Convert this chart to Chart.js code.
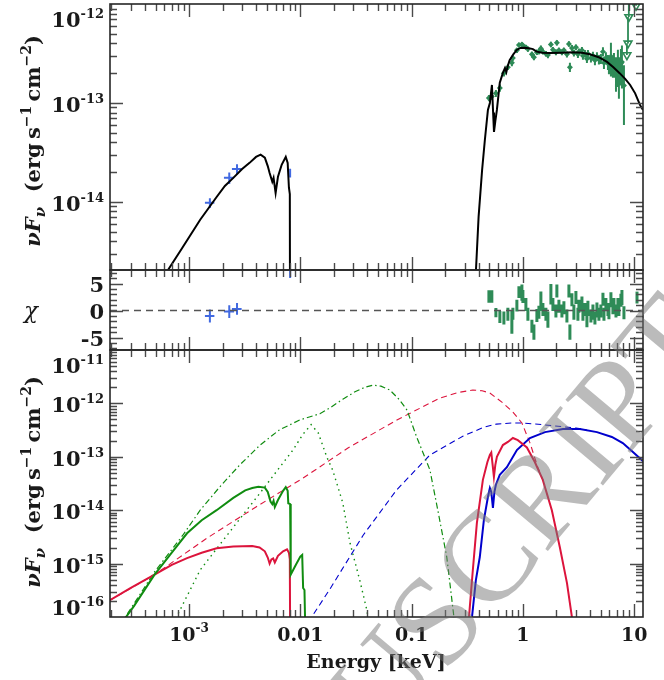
<!DOCTYPE html>
<html>
<head>
<meta charset="utf-8">
<script src="https://cdn.jsdelivr.net/npm/chart.js@4.4.1/dist/chart.umd.min.js"></script>
<style>
  html, body { margin: 0; padding: 0; background: #fff; }
  #wrap { position: relative; width: 664px; height: 680px; overflow: hidden; }
  #wrap canvas { position: absolute; left: 0; top: 0; }
</style>
</head>
<body>
<div id="wrap">
  <canvas id="cTop" width="664" height="680"></canvas>
  <canvas id="cMid" width="664" height="680"></canvas>
  <canvas id="cBot" width="664" height="680"></canvas>
</div>
<script>
"use strict";

// ---------------- data (energy in keV, flux in erg s^-1 cm^-2) ----------------

// top panel: total model (black), UV part and X-ray part
const modelUvE = [6.2e-4, 8.8e-4, 1.26e-3, 1.77e-3, 2.1e-3, 2.5e-3, 3.0e-3, 3.5e-3, 4.0e-3, 4.4e-3, 4.8e-3, 5.1e-3, 5.3e-3, 5.6e-3, 5.75e-3, 6.0e-3, 6.3e-3, 6.8e-3, 7.4e-3, 7.7e-3, 7.9e-3, 8.05e-3, 8.1e-3];
const modelUvF = [1.9e-15, 3.5e-15, 6.6e-15, 1.12e-14, 1.45e-14, 1.75e-14, 2.15e-14, 2.48e-14, 2.85e-14, 3.0e-14, 2.8e-14, 2.3e-14, 1.96e-14, 1.6e-14, 1.75e-14, 1.23e-14, 1.8e-14, 2.37e-14, 2.85e-14, 2.48e-14, 1.4e-14, 1.2e-14, 1e-16];
const modelXrE = [0.37, 0.40, 0.43, 0.455, 0.485, 0.505, 0.527, 0.54, 0.55, 0.565, 0.584, 0.62, 0.66, 0.69, 0.71, 0.73, 0.76, 0.82, 0.88, 0.95, 1.04, 1.13, 1.23, 1.33, 1.5, 1.75, 2.2, 2.8, 3.4, 4.0, 4.8, 5.7, 6.5, 7.4, 8.3, 9.2, 10.2, 11.3, 12.0];
const modelXrF = [1.2e-15, 7.1e-15, 2.1e-14, 4.2e-14, 8.5e-14, 1.0e-13, 1.52e-13, 8e-14, 5.1e-14, 6.5e-14, 8.5e-14, 1.6e-13, 2.0e-13, 2.25e-13, 2.05e-13, 2.35e-13, 2.7e-13, 3.1e-13, 3.43e-13, 3.6e-13, 3.62e-13, 3.58e-13, 3.5e-13, 3.3e-13, 3.22e-13, 3.2e-13, 3.22e-13, 3.25e-13, 3.22e-13, 3.1e-13, 2.9e-13, 2.6e-13, 2.3e-13, 2.0e-13, 1.75e-13, 1.52e-13, 1.25e-13, 9.5e-14, 8.5e-14];

// UV photometry (blue)
const uvE = [1.54e-3, 2.3e-3, 2.7e-3, 8.1e-3];
const uvEerr = [0.15e-3, 0.24e-3, 0.27e-3, 0];
const uvF = [9.8e-15, 1.75e-14, 2.15e-14, 1.96e-14];
const uvFerr = [1.1e-15, 2.3e-15, 2.5e-15, 2.0e-15];
const uvChi = [-1.0, -0.2, 0.3, 8.0];
const uvChiErr = [1.2, 1.2, 1.1, 2.0];

// X-ray spectrum (green)
const xrE = [0.495, 0.526, 0.572, 0.621, 0.675, 0.733, 0.796, 0.813, 0.883, 0.921,
  0.98, 1.0, 1.064, 1.109, 1.205, 1.256, 1.336, 1.393, 1.451, 1.513,
  1.61, 1.678, 1.785, 1.861, 1.98, 2.02, 2.107, 2.242, 2.336, 2.486,
  2.591, 2.645, 2.757, 2.873, 2.995, 3.122, 3.187, 3.392, 3.463, 3.609,
  3.761, 3.84, 4.086, 4.259, 4.438, 4.627, 4.82, 5.02, 5.24, 5.35,
  5.57, 5.81, 5.93, 6.18, 6.44, 6.58, 6.86, 7.14, 7.29, 7.6,
  7.76, 8.09];
const xrF = [1.12e-13, 1.16e-13, 1.25e-13, 1.42e-13, 2.0e-13, 2.3e-13, 2.55e-13, 2.85e-13, 3.4e-13, 3.85e-13,
  3.9e-13, 3.8e-13, 3.65e-13, 3.5e-13, 3.1e-13, 2.9e-13, 3.25e-13, 3.3e-13, 3.55e-13, 3.3e-13,
  3.15e-13, 3.05e-13, 3.9e-13, 3.45e-13, 3.25e-13, 4.05e-13, 3.4e-13, 3.25e-13, 3.4e-13, 3.1e-13,
  3.95e-13, 2.3e-13, 3.6e-13, 3.2e-13, 3.65e-13, 3.1e-13, 3.3e-13, 3.4e-13, 3.0e-13, 3.15e-13,
  2.8e-13, 3.15e-13, 2.85e-13, 3.0e-13, 2.7e-13, 2.95e-13, 2.75e-13, 2.8e-13, 3.3e-13, 2.55e-13,
  2.85e-13, 2.6e-13, 2.45e-13, 2.95e-13, 2.4e-13, 2.5e-13, 2.1e-13, 2.45e-13, 2.0e-13, 2.5e-13,
  2.6e-13, 1.5e-13];
const xrFerr = [0.08e-13, 0.09e-13, 0.1e-13, 0.12e-13, 0.15e-13, 0.15e-13, 0.2e-13, 0.18e-13, 0.2e-13, 0.2e-13,
  0.2e-13, 0.2e-13, 0.2e-13, 0.2e-13, 0.2e-13, 0.2e-13, 0.2e-13, 0.2e-13, 0.25e-13, 0.2e-13,
  0.2e-13, 0.22e-13, 0.25e-13, 0.22e-13, 0.22e-13, 0.25e-13, 0.22e-13, 0.22e-13, 0.22e-13, 0.22e-13,
  0.25e-13, 0.25e-13, 0.25e-13, 0.25e-13, 0.25e-13, 0.25e-13, 0.25e-13, 0.27e-13, 0.27e-13, 0.27e-13,
  0.27e-13, 0.28e-13, 0.28e-13, 0.3e-13, 0.3e-13, 0.3e-13, 0.3e-13, 0.32e-13, 0.35e-13, 0.35e-13,
  0.4e-13, 0.45e-13, 0.5e-13, 1.1e-13, 0.6e-13, 0.7e-13, 0.8e-13, 1.0e-13, 0.9e-13, 1.0e-13,
  1.2e-13, 0.9e-13];
const xrChi = [2.6, 2.6, -0.4, -1.2, -1.4, -0.7, -2.2, -0.6, 0.9, 3.4,
  3.3, 2.6, 1.1, -0.7, -2.9, -4.0, -0.9, -0.3, 1.7, 0.2,
  -0.7, -1.7, 3.0, 1.1, -0.1, 3.6, 0.8, -0.1, 0.5, -1.0,
  3.6, -4.0, 2.0, -0.3, 2.4, -0.7, 0.8, 1.2, -0.7, 0.2,
  -1.9, 0.4, -1.0, -0.3, -1.4, 0.1, -0.7, -0.1, 2.1, -0.7,
  1.1, 0.2, -0.4, 2.0, 0.7, 0.9, -0.1, 1.1, 0.2, 1.9,
  2.4, -0.4];
const xrChiErr = [1.15, 1.15, 0.85, 1.1, 1.2, 1.2, 2.1, 1.1, 1.1, 1.1,
  1.5, 1.2, 1.2, 1.2, 1.2, 1.4, 1.2, 1.2, 1.8, 1.2,
  1.2, 1.5, 1.9, 1.2, 1.2, 1.2, 1.2, 1.2, 1.2, 1.2,
  1.2, 1.4, 1.2, 1.4, 1.2, 1.2, 1.2, 1.4, 1.2, 1.2,
  1.2, 1.4, 1.2, 1.4, 1.2, 1.4, 1.2, 1.2, 1.2, 1.2,
  1.2, 1.2, 1.2, 1.4, 1.4, 1.4, 1.2, 1.2, 1.2, 1.2,
  1.4, 1.2];

// X-ray upper limits (open triangles)
const ulE = [8.6, 8.8, 8.95, 10.4];
const ulF = [3.05e-13, 4.0e-13, 7.4e-13, 9.6e-13];
const ulTop = [4.0e-13, 7.4e-13, 1.1e-12, 1.3e-12];
const ulChiE = [10.6];
const ulChi = [2.4];
const ulChiErr = [1.1];

// bottom panel: model components
const gSolidE = [2.4e-4, 3.2e-4, 4.9e-4, 7e-4, 9.6e-4, 1.3e-3, 1.77e-3, 2.5e-3, 3.2e-3, 3.7e-3, 4.2e-3, 4.8e-3, 5.1e-3, 5.4e-3, 5.6e-3, 5.75e-3, 5.9e-3, 6.3e-3, 7.0e-3, 7.4e-3, 7.7e-3, 7.8e-3, 8.1e-3, 8.2e-3, 9.0e-3, 0.0100, 0.0104, 0.0106, 0.0109, 0.0111];
const gSolidF = [7e-17, 1.6e-16, 6.2e-16, 1.6e-15, 3.7e-15, 6.5e-15, 1.0e-14, 1.7e-14, 2.35e-14, 2.6e-14, 2.75e-14, 2.65e-14, 2.2e-14, 1.45e-14, 1.3e-14, 1.5e-14, 1.15e-14, 1.55e-14, 2.3e-14, 2.7e-14, 2.3e-14, 1.35e-14, 1.3e-14, 6.2e-16, 9e-16, 1.35e-15, 1.45e-15, 3.5e-16, 3.2e-16, 5e-17];
const gDashDotE = [2.4e-4, 4.9e-4, 8.8e-4, 1.26e-3, 1.88e-3, 2.85e-3, 4.35e-3, 6.5e-3, 9.9e-3, 0.015, 0.0184, 0.0241, 0.031, 0.038, 0.0449, 0.053, 0.0638, 0.078, 0.091, 0.111, 0.146, 0.172, 0.207, 0.24];
const gDashDotF = [7e-17, 7e-16, 3.4e-15, 1.0e-14, 2.7e-14, 7.0e-14, 1.66e-13, 3.2e-13, 4.9e-13, 6.4e-13, 8.2e-13, 1.2e-12, 1.65e-12, 2.0e-12, 2.2e-12, 2.1e-12, 1.78e-12, 1.16e-12, 7.5e-13, 2.35e-13, 5.7e-14, 1e-14, 1.33e-15, 1e-16];
const gDotE = [6.5e-4, 8.3e-4, 1.26e-3, 2.5e-3, 4.35e-3, 7.0e-3, 8.6e-3, 0.0105, 0.0125, 0.0145, 0.0173, 0.0195, 0.0218, 0.0241, 0.028, 0.0342, 0.0396, 0.043];
const gDotF = [5e-17, 1.35e-16, 7.6e-16, 4.8e-15, 2.1e-14, 7.7e-14, 1.34e-13, 2.6e-13, 4.0e-13, 2.8e-13, 9.9e-14, 5.7e-14, 2.7e-14, 1.36e-14, 2.4e-15, 4.9e-16, 1.35e-16, 5e-17];

const rSolidLoE = [1.9e-4, 3e-4, 4.9e-4, 7e-4, 9.6e-4, 1.3e-3, 1.77e-3, 2.5e-3, 3.7e-3, 4.3e-3, 4.8e-3, 5.1e-3, 5.3e-3, 5.5e-3, 5.7e-3, 5.9e-3, 6.3e-3, 7.0e-3, 7.6e-3, 7.9e-3, 8.05e-3, 8.1e-3];
const rSolidLoF = [2.0e-16, 3.5e-16, 6.2e-16, 9.5e-16, 1.27e-15, 1.6e-15, 1.94e-15, 2.1e-15, 2.14e-15, 2.0e-15, 1.7e-15, 1.3e-15, 1.0e-15, 1.2e-15, 1.25e-15, 1.05e-15, 1.4e-15, 1.7e-15, 1.85e-15, 1.6e-15, 1.2e-15, 5e-17];
const rSolidHiE = [0.325, 0.355, 0.386, 0.437, 0.48, 0.505, 0.52, 0.535, 0.549, 0.565, 0.584, 0.661, 0.733, 0.813, 0.9, 1.086, 1.28, 1.51, 1.82, 2.15, 2.49, 2.8];
const rSolidHiF = [8e-17, 7.6e-16, 5.8e-15, 3.7e-14, 8e-14, 1.08e-13, 1.2e-13, 7e-14, 4.2e-14, 7e-14, 1.0e-13, 1.66e-13, 1.9e-13, 2.25e-13, 2.05e-13, 1.5e-13, 8e-14, 3.7e-14, 1e-14, 2e-15, 4.3e-16, 8e-17];
const rDashE = [1.9e-4, 4.9e-4, 1.45e-3, 4.0e-3, 0.0106, 0.0268, 0.0738, 0.18, 0.26, 0.355, 0.43, 0.505, 0.661, 0.813, 0.98, 1.16, 1.36, 1.58];
const rDashF = [2.0e-16, 6.2e-16, 3.0e-15, 1.15e-14, 4.0e-14, 1.46e-13, 4.9e-13, 1.26e-12, 1.6e-12, 1.78e-12, 1.72e-12, 1.57e-12, 1.02e-12, 6.9e-13, 4.3e-13, 1.8e-13, 6.4e-14, 3.0e-14];

const bSolidE = [0.345, 0.378, 0.41, 0.446, 0.485, 0.505, 0.52, 0.538, 0.555, 0.572, 0.62, 0.718, 0.883, 1.156, 1.58, 2.29, 3.25, 4.63, 6.3, 7.9, 9.74, 11.7, 12.0];
const bSolidF = [8e-17, 4.9e-16, 1.33e-15, 6.5e-15, 1.77e-14, 2.6e-14, 2.2e-14, 1.1e-14, 2.2e-14, 3.0e-14, 4.6e-14, 6.4e-14, 1.34e-13, 2.25e-13, 2.9e-13, 3.3e-13, 3.3e-13, 2.9e-13, 2.35e-13, 1.81e-13, 1.23e-13, 8.7e-14, 8.2e-14];
const bDashE = [0.0118, 0.0184, 0.0367, 0.0734, 0.146, 0.291, 0.45, 0.58, 0.8, 1.0, 1.5, 2.3, 3.0, 3.74];
const bDashF = [8e-17, 3.3e-16, 3.4e-15, 2.4e-14, 1.08e-13, 2.45e-13, 3.6e-13, 4.1e-13, 4.3e-13, 4.3e-13, 4.0e-13, 3.65e-13, 3.45e-13, 3.2e-13];

// axis ranges and tick labels
const E_MIN = 1.95e-4, E_MAX = 12;
const xTickVals = [1e-3, 0.01, 0.1, 1, 10];
const xTickText = [['10', '-3'], ['0.01'], ['0.1'], ['1'], ['10']];
const topYTicks = [1e-14, 1e-13, 1e-12];
const topYExp = ['-14', '-13', '-12'];
const midYTicks = [5, 0, -5];
const botYTicks = [1e-16, 1e-15, 1e-14, 1e-13, 1e-12, 1e-11];
const botYExp = ['-16', '-15', '-14', '-13', '-12', '-11'];

// ---------------- colours / helpers ----------------
const BLACK = '#000000', UVBLUE = '#4169e1', XGREEN = '#2e8b57';
const GREEN = '#108c10', RED = '#dc143c', BLUE = '#0000cd';
const SERIF = '"DejaVu Serif"';

const pts = (xs, ys) => xs.map((x, i) => ({ x, y: ys[i] }));

function vErr(xs, ys, lo, hi) {
  const out = [];
  xs.forEach((x, i) => { out.push({ x, y: lo[i] }, { x, y: hi[i] }, { x, y: null }); });
  return out;
}
function vErrSym(xs, ys, e) {
  return vErr(xs, ys, ys.map((y, i) => y - e[i]), ys.map((y, i) => y + e[i]));
}
function hErr(xs, ys, e) {
  const out = [];
  xs.forEach((x, i) => { if (e[i] > 0) out.push({ x: x - e[i], y: ys[i] }, { x: x + e[i], y: ys[i] }, { x, y: null }); });
  return out;
}

const line = (data, color, width, dash) => ({
  data, showLine: true, borderColor: color, borderWidth: width, borderDash: dash || [],
  pointRadius: 0, fill: false, borderCapStyle: 'butt'
});
const marks = (data, color, style, r, extra) => Object.assign({
  data, showLine: false, pointStyle: style, pointRadius: r,
  backgroundColor: color, borderColor: color, borderWidth: 0
}, extra || {});

function logTicks(min, max) {
  const out = [];
  for (let n = Math.floor(Math.log10(min)); n <= Math.ceil(Math.log10(max)); n++) {
    for (let m = 1; m <= 9; m++) {
      const v = m * Math.pow(10, n);
      if (v > min * 1.001 && v < max / 1.001) out.push({ v, major: m === 1 });
    }
  }
  return out;
}
function linTicks(min, max) {
  const out = [];
  for (let v = Math.ceil(min); v <= Math.floor(max); v++) out.push({ v, major: v % 5 === 0 });
  return out;
}

function richWidth(ctx, parts) {
  let w = 0;
  parts.forEach(p => { ctx.font = p.f; w += ctx.measureText(p.t).width; });
  return w;
}
function drawRich(ctx, parts, x, y, align) {
  const w = richWidth(ctx, parts);
  let cx = align === 'center' ? x - w / 2 : align === 'right' ? x - w : x;
  ctx.textAlign = 'left';
  ctx.textBaseline = 'alphabetic';
  parts.forEach(p => {
    ctx.font = p.f;
    ctx.fillText(p.t, cx, y + (p.dy || 0));
    cx += ctx.measureText(p.t).width;
  });
}
const powParts = (exp, size) => [
  { t: '10', f: 'bold ' + size + 'px ' + SERIF },
  { t: exp, f: 'bold ' + Math.round(size * 0.64) + 'px ' + SERIF, dy: -Math.round(size * 0.45) }
];

function drawFluxTitle(ctx, x, y) {
  ctx.save();
  ctx.translate(x, y);
  ctx.rotate(-Math.PI / 2);
  ctx.fillStyle = '#1a1a1a';
  drawRich(ctx, [
    { t: 'ν', f: 'italic bold 21px ' + SERIF },
    { t: 'F', f: 'italic bold 21px ' + SERIF },
    { t: 'ν', f: 'italic bold 15px ' + SERIF, dy: 5 },
    { t: '  (erg\u2009s', f: 'bold 21px ' + SERIF },
    { t: '−1', f: 'bold 14px ' + SERIF, dy: -9 },
    { t: '\u2009cm', f: 'bold 21px ' + SERIF },
    { t: '−2', f: 'bold 14px ' + SERIF, dy: -9 },
    { t: ')', f: 'bold 21px ' + SERIF }
  ], 0, 0, 'center');
  ctx.restore();
}

// frame, inward ticks on all four sides, and the labels of one panel
function framePlugin(drawLabels) {
  return {
    id: 'frame',
    afterDatasetsDraw(chart) {
      const { ctx, chartArea: a } = chart;
      const xs = chart.scales.x, ys = chart.scales.y;
      ctx.save();
      ctx.strokeStyle = '#4a4a4a';
      ctx.lineWidth = 1.4;
      ctx.beginPath();
      logTicks(xs.min, xs.max).forEach(t => {
        const p = Math.round(xs.getPixelForValue(t.v)) + 0.5;
        const L = t.major ? 13 : 7;
        ctx.moveTo(p, a.top); ctx.lineTo(p, a.top + L);
        ctx.moveTo(p, a.bottom); ctx.lineTo(p, a.bottom - L);
      });
      const yt = ys.type === 'logarithmic' ? logTicks(ys.min, ys.max) : linTicks(ys.min, ys.max);
      yt.forEach(t => {
        const p = Math.round(ys.getPixelForValue(t.v)) + 0.5;
        const L = t.major ? 13 : 7;
        ctx.moveTo(a.left, p); ctx.lineTo(a.left + L, p);
        ctx.moveTo(a.right, p); ctx.lineTo(a.right - L, p);
      });
      ctx.stroke();
      ctx.strokeStyle = '#262626';
      ctx.lineWidth = 1.6;
      ctx.strokeRect(a.left, a.top, a.right - a.left, a.bottom - a.top);
      ctx.fillStyle = '#1a1a1a';
      drawLabels(ctx, chart, a, xs, ys);
      ctx.restore();
    }
  };
}

function logYLabels(ctx, a, ys, vals, exps) {
  vals.forEach((v, i) => {
    let base = ys.getPixelForValue(v) + 9;
    base = Math.max(a.top + 23, Math.min(a.bottom - 2, base));
    drawRich(ctx, powParts(exps[i], 21), 104, base, 'right');
  });
}

function makePanel(id, padTop, padBottom, yScale, datasets, drawLabels, extra) {
  return new Chart(document.getElementById(id), {
    type: 'scatter',
    data: { datasets },
    options: {
      responsive: false,
      animation: false,
      devicePixelRatio: 1,
      events: [],
      layout: { autoPadding: false, padding: { left: 110, right: 21, top: padTop, bottom: padBottom } },
      plugins: { legend: { display: false }, tooltip: { enabled: false } },
      elements: { line: { tension: 0 } },
      scales: {
        x: { type: 'logarithmic', min: E_MIN, max: E_MAX, display: false },
        y: Object.assign({ display: false }, yScale)
      }
    },
    plugins: [framePlugin(drawLabels)].concat(extra || [])
  });
}

// ---------------- top panel: data + model ----------------
makePanel('cTop', 4, 410, { type: 'logarithmic', min: 2.05e-15, max: 1e-12 }, [
  line(pts(modelUvE, modelUvF), BLACK, 2),
  line(pts(modelXrE, modelXrF), BLACK, 2),
  line(vErrSym(uvE, uvF, uvFerr), UVBLUE, 2),
  line(hErr(uvE, uvF, uvEerr), UVBLUE, 2),
  line(vErrSym(xrE, xrF, xrFerr), XGREEN, 2),
  marks(pts(xrE, xrF), XGREEN, 'rectRot', 3),
  line(vErr(ulE, ulF, ulF, ulTop), XGREEN, 1.8),
  marks(pts(ulE, ulF), XGREEN, 'triangle', 4.5, { rotation: 180, backgroundColor: 'rgba(255,255,255,0)', borderWidth: 1.6 })
], (ctx, chart, a, xs, ys) => {
  logYLabels(ctx, a, ys, topYTicks, topYExp);
  drawFluxTitle(ctx, 40, 141);
});

// ---------------- middle panel: residuals ----------------
makePanel('cMid', 270, 330, { type: 'linear', min: -7.3, max: 7.5 }, [
  line(pts([E_MIN, E_MAX], [0, 0]), '#555555', 1.4, [7, 5]),
  line(vErrSym(uvE, uvChi, uvChiErr), UVBLUE, 2),
  line(hErr(uvE, uvChi, uvEerr), UVBLUE, 2),
  line(vErrSym(xrE, xrChi, xrChiErr), XGREEN, 3),
  line(vErrSym(ulChiE, ulChi, ulChiErr), XGREEN, 3)
], (ctx, chart, a, xs, ys) => {
  midYTicks.forEach(v => {
    drawRich(ctx, [{ t: v < 0 ? '-' + Math.abs(v) : String(v), f: 'bold 21px ' + SERIF }], 104, ys.getPixelForValue(v) + 8, 'right');
  });
  ctx.font = 'italic 23px ' + SERIF;
  ctx.textAlign = 'center';
  ctx.fillText('χ', 31, 318);
});

// ---------------- bottom panel: model components ----------------
const watermark = {
  id: 'watermark',
  afterDraw(chart) {
    const ctx = chart.ctx;
    ctx.save();
    ctx.translate(193, 974);
    ctx.rotate(-50 * Math.PI / 180);
    ctx.font = '128px "Liberation Serif"';
    ctx.fillStyle = 'rgba(120,120,120,0.5)';
    ctx.textAlign = 'left';
    ctx.textBaseline = 'alphabetic';
    ctx.fillText('MANUSCRIPT', 0, 0);
    ctx.restore();
  }
};

makePanel('cBot', 350, 63, { type: 'logarithmic', min: 1e-16, max: 1e-11 }, [
  line(pts(gSolidE, gSolidF), GREEN, 2),
  line(pts(rSolidLoE, rSolidLoF), RED, 2),
  line(pts(rSolidHiE, rSolidHiF), RED, 2),
  line(pts(bSolidE, bSolidF), BLUE, 2),
  line(pts(gDashDotE, gDashDotF), GREEN, 1.2, [6, 3, 1.5, 3]),
  line(pts(gDotE, gDotF), GREEN, 1.4, [1.5, 4]),
  line(pts(rDashE, rDashF), RED, 1.1, [6, 4]),
  line(pts(bDashE, bDashF), BLUE, 1.1, [6, 4])
], (ctx, chart, a, xs, ys) => {
  logYLabels(ctx, a, ys, botYTicks, botYExp);
  drawFluxTitle(ctx, 40, 482);
  xTickVals.forEach((v, i) => {
    const t = xTickText[i];
    const parts = t.length > 1 ? powParts(t[1], 19) : [{ t: t[0], f: 'bold 19px ' + SERIF }];
    drawRich(ctx, parts, xs.getPixelForValue(v), a.bottom + 24, 'center');
  });
  drawRich(ctx, [{ t: 'Energy [keV]', f: 'bold 19px ' + SERIF }], 376, 668, 'center');
}, [watermark]);
</script>
</body>
</html>
